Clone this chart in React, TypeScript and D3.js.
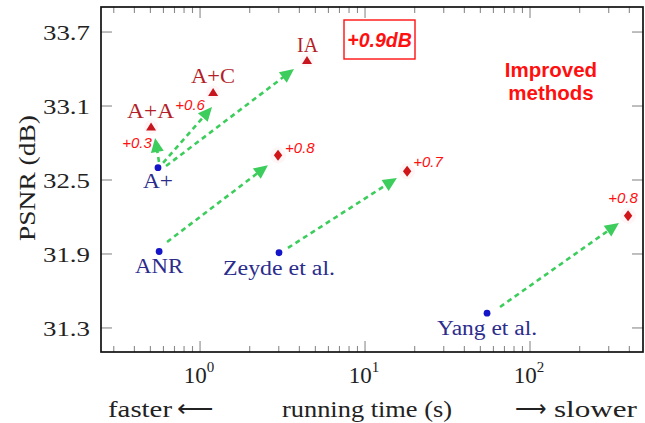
import React from 'react';
import * as d3 from 'd3';

// ---- data ----
const baseNames = ['A+', 'ANR', 'Zeyde et al.', 'Yang et al.'];
const baseTime = [0.556, 0.565, 3.01, 54.9];
const basePsnr = [32.6, 31.92, 31.91, 31.42];

const triNames = ['A+A', 'A+C', 'IA'];
const triTime = [0.505, 1.2, 4.45];
const triPsnr = [32.93, 33.21, 33.47];

const diaTime = [2.97, 18.0, 393];
const diaPsnr = [32.7, 32.57, 32.21];

const gainLabels = ['+0.3', '+0.6', '+0.8', '+0.7', '+0.8'];

const arrowStartTime = [0.564, 0.597, 0.622, 0.631, 3.41, 65.8];
const arrowStartPsnr = [32.646, 32.638, 32.613, 31.997, 31.949, 31.47];
const arrowTipTime = [0.534, 1.182, 3.71, 2.58, 15.6, 346];
const arrowTipPsnr = [32.84, 33.092, 33.4, 32.62, 32.516, 32.151];

const yTicks = [31.3, 31.9, 32.5, 33.1, 33.7];
const xMajor = [1, 10, 100];
const xExp = ['0', '1', '2'];

const yLabel = 'PSNR (dB)';
const xLabel = 'running time (s)';
const boxLabel = '+0.9dB';
const noteLines = ['Improved', 'methods'];

// ---- layout ----
const W = 645;
const H = 423;
const L = 101, R = 643, T = 7, B = 352;

const serif = '"Liberation Serif", "Times New Roman", serif';
const sans = '"Liberation Sans", Arial, sans-serif';
const RED = '#ff1010';
const DARKRED = '#b41e28';
const BLUE = '#2c2c8c';
const GREEN = '#3ccd5c';

const baseLabelOff = [
  { dx: 0, dy: 20, w: 30 },
  { dx: 0, dy: 21, w: 48 },
  { dx: 0, dy: 22, w: 112 },
  { dx: 0, dy: 22, w: 100 },
];
const triLabelOff = [
  { dx: -0.5, dy: -9, w: 47 },
  { dx: 0, dy: -9, w: 44 },
  { dx: 0.5, dy: -8, w: 21 },
];
// gain labels: anchored relative to improved markers
const gainPos = [
  { ref: 't', i: 0, dx: -14, dy: 21, anchor: 'middle' },
  { ref: 't', i: 1, dx: -23, dy: 18, anchor: 'middle' },
  { ref: 'd', i: 0, dx: 7, dy: -2, anchor: 'start' },
  { ref: 'd', i: 1, dx: 6, dy: -4, anchor: 'start' },
  { ref: 'd', i: 2, dx: -5, dy: -13, anchor: 'middle' },
];

export default function App() {
  const x = d3.scaleLog().domain([0.251, 484]).range([L, R]);
  const y = d3.scaleLinear().domain([31.105, 33.903]).range([B, T]);

  const allX = x.ticks();
  const minor = allX.filter(
    (v) => !xMajor.some((m) => Math.abs(v - m) < 1e-9) && v > 0.251 && v < 484
  );

  const arrows = arrowStartTime.map((_, i) => {
    const x0 = x(arrowStartTime[i]);
    const y0 = y(arrowStartPsnr[i]);
    const x1 = x(arrowTipTime[i]);
    const y1 = y(arrowTipPsnr[i]);
    const len = Math.hypot(x1 - x0, y1 - y0);
    const ux = (x1 - x0) / len;
    const uy = (y1 - y0) / len;
    const hl = 14, hw = 6.5;
    const bx = x1 - ux * hl;
    const by = y1 - uy * hl;
    const px = -uy, py = ux;
    const head = `${x1},${y1} ${bx + px * hw},${by + py * hw} ${bx - px * hw},${by - py * hw}`;
    return { x0, y0, bx: x1 - ux * (hl - 2), by: y1 - uy * (hl - 2), head };
  });

  const triPath = (cx: number, cy: number) =>
    `M${cx},${cy - 4.5} L${cx + 5},${cy + 3.5} L${cx - 5},${cy + 3.5} Z`;
  const diaPath = (cx: number, cy: number) =>
    `M${cx},${cy - 5.5} L${cx + 4.2},${cy} L${cx},${cy + 5.5} L${cx - 4.2},${cy} Z`;

  return (
    <svg
      width={W}
      height={H}
      style={{ position: 'absolute', left: 0, top: 0, background: '#fff' }}
    >
      <rect x={0} y={0} width={W} height={H} fill="#fff" />

      {/* ticks */}
      <g stroke="#8a8a8a" strokeWidth={1.1}>
        {yTicks.map((v) => (
          <g key={'yt' + v}>
            <line x1={L} x2={L + 11} y1={y(v)} y2={y(v)} />
            <line x1={R} x2={R - 11} y1={y(v)} y2={y(v)} />
          </g>
        ))}
        {xMajor.map((v) => (
          <g key={'xM' + v}>
            <line x1={x(v)} x2={x(v)} y1={B} y2={B - 11} />
            <line x1={x(v)} x2={x(v)} y1={T} y2={T + 11} />
          </g>
        ))}
        {minor.map((v) => (
          <g key={'xm' + v}>
            <line x1={x(v)} x2={x(v)} y1={B} y2={B - 6} />
            <line x1={x(v)} x2={x(v)} y1={T} y2={T + 6} />
          </g>
        ))}
      </g>

      {/* frame */}
      <rect x={L} y={T} width={R - L} height={B - T} fill="none" stroke="#111" strokeWidth={1.7} />

      {/* y tick labels */}
      {yTicks.map((v) => (
        <text
          key={'yl' + v}
          x={90}
          y={y(v) + 8}
          textAnchor="end"
          fontFamily={serif}
          fontSize={22}
          textLength={47}
          lengthAdjust="spacingAndGlyphs"
          fill="#222"
        >
          {v.toFixed(1)}
        </text>
      ))}

      {/* x tick labels */}
      {xMajor.map((v, i) => (
        <text
          key={'xl' + v}
          x={x(v) - 1}
          y={383}
          textAnchor="middle"
          fontFamily={serif}
          fontSize={23}
          fill="#222"
        >
          10
          <tspan dy={-11} fontSize={15}>
            {xExp[i]}
          </tspan>
        </text>
      ))}

      {/* y axis label */}
      <text
        transform={`translate(35,${178}) rotate(-90)`}
        textAnchor="middle"
        fontFamily={serif}
        fontSize={23}
        textLength={126}
        lengthAdjust="spacingAndGlyphs"
        fill="#222"
      >
        {yLabel}
      </text>

      {/* bottom labels */}
      <text x={108} y={417} fontFamily={serif} fontSize={23} textLength={64} lengthAdjust="spacingAndGlyphs" fill="#222">
        faster
      </text>
      <text x={177} y={416} fontFamily={serif} fontSize={22} textLength={37} lengthAdjust="spacingAndGlyphs" fill="#222">
        {'\u27F5'}
      </text>
      <text x={367} y={417} textAnchor="middle" fontFamily={serif} fontSize={23} textLength={170} lengthAdjust="spacingAndGlyphs" fill="#222">
        {xLabel}
      </text>
      <text x={515} y={416} fontFamily={serif} fontSize={22} textLength={32} lengthAdjust="spacingAndGlyphs" fill="#222">
        {'\u27F6'}
      </text>
      <text x={554} y={417} fontFamily={serif} fontSize={23} textLength={83} lengthAdjust="spacingAndGlyphs" fill="#222">
        slower
      </text>

      {/* arrows */}
      {arrows.map((a, i) => (
        <g key={'ar' + i}>
          <line
            x1={a.x0}
            y1={a.y0}
            x2={a.bx}
            y2={a.by}
            stroke={GREEN}
            strokeWidth={2.6}
            strokeDasharray="5 4"
          />
          <polygon points={a.head} fill={GREEN} />
        </g>
      ))}

      {/* base methods */}
      {baseNames.map((n, i) => (
        <g key={'b' + n}>
          <circle cx={x(baseTime[i])} cy={y(basePsnr[i])} r={3.4} fill="#1414c8" />
          <text
            x={x(baseTime[i]) + baseLabelOff[i].dx}
            y={y(basePsnr[i]) + baseLabelOff[i].dy}
            textAnchor="middle"
            fontFamily={serif}
            fontSize={20}
            textLength={baseLabelOff[i].w}
            lengthAdjust="spacingAndGlyphs"
            fill={BLUE}
          >
            {n}
          </text>
        </g>
      ))}

      {/* improved (triangles) */}
      {triNames.map((n, i) => (
        <g key={'t' + n}>
          <circle cx={x(triTime[i])} cy={y(triPsnr[i])} r={7} fill="#fdeeee" opacity={0.5} />
          <path d={triPath(x(triTime[i]), y(triPsnr[i]))} fill="#c8141c" />
          <text
            x={x(triTime[i]) + triLabelOff[i].dx}
            y={y(triPsnr[i]) + triLabelOff[i].dy}
            textAnchor="middle"
            fontFamily={serif}
            fontSize={20}
            textLength={triLabelOff[i].w}
            lengthAdjust="spacingAndGlyphs"
            fill={DARKRED}
          >
            {n}
          </text>
        </g>
      ))}

      {/* improved (diamonds) */}
      {diaTime.map((t, i) => (
        <g key={'d' + i}>
          <circle cx={x(t)} cy={y(diaPsnr[i])} r={8} fill="#fdeeee" opacity={0.5} />
          <path d={diaPath(x(t), y(diaPsnr[i]))} fill="#d01418" />
        </g>
      ))}

      {/* gain labels */}
      {gainLabels.map((g, k) => {
        const p = gainPos[k];
        const cx = p.ref === 't' ? x(triTime[p.i]) : x(diaTime[p.i]);
        const cy = p.ref === 't' ? y(triPsnr[p.i]) : y(diaPsnr[p.i]);
        return (
          <text
            key={'g' + k}
            x={cx + p.dx}
            y={cy + p.dy}
            textAnchor={p.anchor as any}
            fontFamily={sans}
            fontStyle="italic"
            fontSize={15}
            fill={RED}
          >
            {g}
          </text>
        );
      })}

      {/* +0.9dB box */}
      <rect x={344} y={20} width={71} height={39} fill="#fff" stroke={RED} strokeWidth={1.4} />
      <text
        x={379.5}
        y={47}
        textAnchor="middle"
        fontFamily={sans}
        fontWeight="bold"
        fontStyle="italic"
        fontSize={19.5}
        fill={RED}
      >
        {boxLabel}
      </text>

      {/* note */}
      {noteLines.map((s, i) => (
        <text
          key={'n' + i}
          x={551}
          y={77 + i * 23}
          textAnchor="middle"
          fontFamily={sans}
          fontWeight="bold"
          fontSize={20.5}
          fill={RED}
        >
          {s}
        </text>
      ))}
    </svg>
  );
}
